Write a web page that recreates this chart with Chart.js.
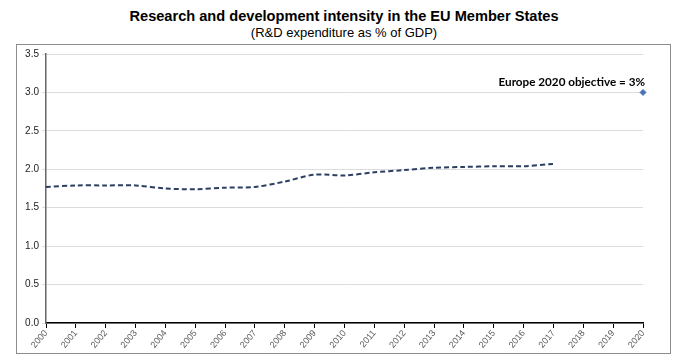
<!DOCTYPE html>
<html>
<head>
<meta charset="utf-8">
<script src="https://cdn.jsdelivr.net/npm/chart.js@4.4.1/dist/chart.umd.min.js"></script>
<style>
  body { margin: 0; background: #fff; font-family: "Liberation Sans", Arial, sans-serif; }
  #titulo { position: absolute; left: 0; top: 8px; width: 688px; text-align: center; font-weight: bold; font-size: 14.6px; color: #000; }
  #subtitulo { position: absolute; left: 0; top: 25px; width: 688px; text-align: center; font-size: 13px; color: #000; }
  #caja { position: absolute; left: 16px; top: 44px; width: 653px; height: 308px; border: 1px solid #8c8c8c; }
</style>
</head>
<body>
<div id="titulo">Research and development intensity in the EU Member States</div>
<div id="subtitulo">(R&amp;D expenditure as % of GDP)</div>
<div id="caja"><canvas id="grafica" width="653" height="308"></canvas></div>
<script>
// años del eje x
const anios = ['2000','2001','2002','2003','2004','2005','2006','2007','2008','2009','2010',
  '2011','2012','2013','2014','2015','2016','2017','2018','2019','2020'];
// intensidad de I+D en la UE (% del PIB)
const intensidad = [1.77, 1.79, 1.79, 1.79, 1.75, 1.74, 1.76, 1.77, 1.84, 1.93, 1.92,
  1.96, 1.99, 2.02, 2.03, 2.04, 2.04, 2.07, null, null, null];
// objetivo Europa 2020
const objetivo = [null, null, null, null, null, null, null, null, null, null, null,
  null, null, null, null, null, null, null, null, null, 3.0];
const textoObjetivo = 'Europe 2020 objective = 3%';

// dibuja la etiqueta del objetivo junto al punto
const etiquetaObjetivo = {
  id: 'etiquetaObjetivo',
  afterDatasetsDraw(chart) {
    const punto = chart.getDatasetMeta(1).data[20];
    if (!punto) return;
    const ctx = chart.ctx;
    ctx.save();
    ctx.font = 'bold 11.7px Lato, "Open Sans", sans-serif';
    ctx.fillStyle = '#000';
    ctx.textAlign = 'right';
    ctx.textBaseline = 'bottom';
    ctx.fillText(textoObjetivo, punto.x + 2, punto.y - 4);
    ctx.restore();
  }
};

new Chart(document.getElementById('grafica'), {
  type: 'line',
  data: {
    labels: anios,
    datasets: [
      {
        data: intensidad,
        borderColor: '#2b3f63',
        borderWidth: 2,
        borderDash: [5, 3],
        pointRadius: 0,
        tension: 0.3,
        spanGaps: false
      },
      {
        data: objetivo,
        showLine: false,
        pointStyle: 'rectRot',
        pointRadius: 3,
        pointBackgroundColor: '#4a72b8',
        pointBorderColor: '#4a72b8'
      }
    ]
  },
  options: {
    responsive: false,
    animation: false,
    layout: { padding: { top: 8, right: 27, left: 0, bottom: 0 } },
    plugins: { legend: { display: false }, tooltip: { enabled: false } },
    scales: {
      x: {
        offset: false,
        grid: { drawOnChartArea: false, drawTicks: true, tickLength: 5, color: '#000' },
        border: { color: '#000', width: 1.5 },
        ticks: {
          minRotation: 50, maxRotation: 50, autoSkip: false, padding: 0,
          color: '#595959', font: { family: '"Liberation Sans", Arial', size: 9 }
        },
        afterFit(escala) { escala.height = 30; }
      },
      y: {
        min: 0, max: 3.5,
        grid: { color: '#dcdcdc', tickLength: 4, lineWidth: 1 },
        border: { color: '#666', width: 1.5 },
        ticks: {
          stepSize: 0.5, padding: 3, color: '#222',
          font: { family: '"Liberation Sans", Arial', size: 10 },
          callback: (v) => v.toFixed(1)
        },
        afterFit(escala) { escala.width = 29; }
      }
    }
  },
  plugins: [etiquetaObjetivo]
});
</script>
</body>
</html>
